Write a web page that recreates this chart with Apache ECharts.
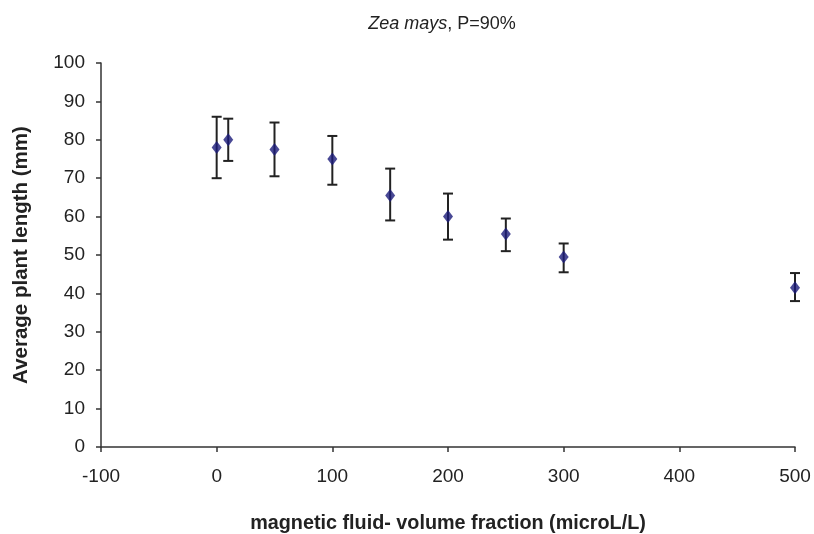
<!DOCTYPE html>
<html>
<head>
<meta charset="utf-8">
<script src="https://cdn.jsdelivr.net/npm/echarts@6/dist/echarts.min.js"></script>
<style>html,body{margin:0;padding:0;background:#fff}#c{width:814px;height:534px}</style>
</head>
<body>
<div id="c"></div>
<script>
var xValues = [0, 10, 50, 100, 150, 200, 250, 300, 500];
var meanLength = [78, 80, 77.5, 75, 65.5, 60, 55.5, 49.5, 41.5];
var errUpper = [86, 85.5, 84.5, 81, 72.5, 66, 59.5, 53, 45.3];
var errLower = [70, 74.5, 70.5, 68.3, 59, 54, 51, 45.5, 38];
var xTicks = [-100, 0, 100, 200, 300, 400, 500];
var yTicks = [0, 10, 20, 30, 40, 50, 60, 70, 80, 90, 100];

var font = 'Liberation Sans, Arial, sans-serif';
var chart = echarts.init(document.getElementById('c'));
var pts = xValues.map(function (x, i) { return [x, meanLength[i]]; });
var errs = xValues.map(function (x, i) { return [x, errLower[i], errUpper[i]]; });

chart.setOption({
  animation: false,
  backgroundColor: '#fff',
  title: {
    text: '{i|Zea mays}{n|, P=90%}',
    left: 437, top: 10, textAlign: 'center',
    textStyle: {
      fontWeight: 'normal',
      rich: {
        i: {fontStyle: 'italic', fontWeight: 'normal', fontSize: 18, fontFamily: font, color: '#222'},
        n: {fontWeight: 'normal', fontSize: 18, fontFamily: font, color: '#222'}
      }
    }
  },
  grid: {left: 101, right: 19, top: 63, bottom: 87, containLabel: false, outerBoundsMode: 'none'},
  xAxis: {
    type: 'value', min: xTicks[0], max: xTicks[xTicks.length - 1], interval: 100,
    name: 'magnetic fluid- volume fraction (microL/L)',
    nameLocation: 'middle', nameGap: 67,
    nameTextStyle: {fontWeight: 'bold', fontSize: 19.8, fontFamily: font, color: '#222'},
    axisLine: {onZero: false, lineStyle: {color: '#333', width: 1.5}},
    axisTick: {show: true, inside: false, length: 5, lineStyle: {color: '#333', width: 1.5}},
    axisLabel: {fontSize: 19, fontFamily: font, color: '#222', margin: 20},
    splitLine: {show: false}
  },
  yAxis: {
    type: 'value', min: yTicks[0], max: yTicks[yTicks.length - 1], interval: 10,
    name: 'Average plant length (mm)',
    nameLocation: 'middle', nameGap: 69,
    nameTextStyle: {fontWeight: 'bold', fontSize: 20.5, fontFamily: font, color: '#222'},
    axisLine: {show: true, onZero: false, lineStyle: {color: '#333', width: 1.5}},
    axisTick: {show: true, inside: false, length: 5, lineStyle: {color: '#333', width: 1.5}},
    axisLabel: {fontSize: 19, fontFamily: font, color: '#222', margin: 16},
    splitLine: {show: false}
  },
  series: [
    {
      type: 'custom',
      data: errs,
      z: 1,
      renderItem: function (params, api) {
        var x = api.value(0);
        var lo = api.coord([x, api.value(1)]);
        var hi = api.coord([x, api.value(2)]);
        var w = 5;
        var st = {stroke: '#222', lineWidth: 2};
        return {
          type: 'group',
          children: [
            {type: 'line', shape: {x1: hi[0], y1: hi[1], x2: lo[0], y2: lo[1]}, style: st},
            {type: 'line', shape: {x1: hi[0] - w, y1: hi[1], x2: hi[0] + w, y2: hi[1]}, style: st},
            {type: 'line', shape: {x1: lo[0] - w, y1: lo[1], x2: lo[0] + w, y2: lo[1]}, style: st}
          ]
        };
      }
    },
    {
      type: 'scatter',
      data: pts,
      z: 3,
      symbol: 'diamond',
      symbolSize: [10, 13],
      itemStyle: {color: '#1c1c7a'}
    }
  ]
});
</script>
</body>
</html>
